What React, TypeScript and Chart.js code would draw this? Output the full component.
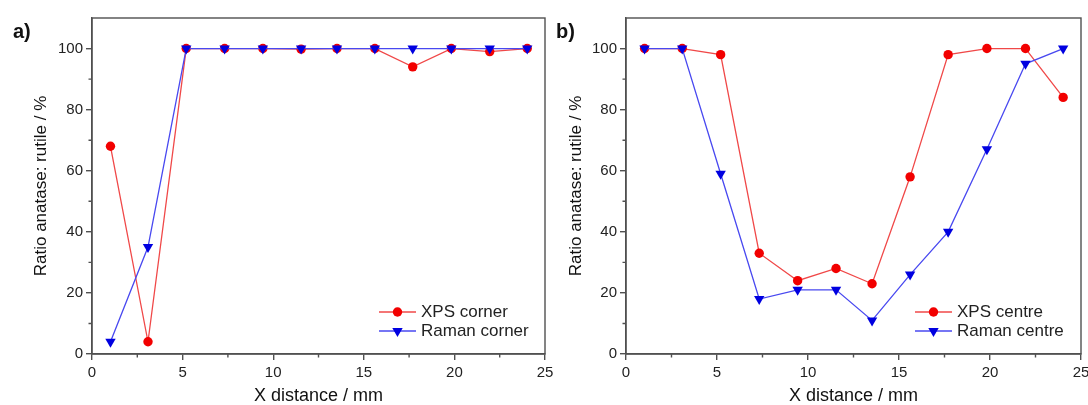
import React, { useEffect, useRef } from 'react';
import { Chart, registerables } from 'chart.js';
import { drawPoint } from 'chart.js/helpers';

Chart.register(...registerables);

// ---- data ----
const xDistance = [1.02, 3.09, 5.2, 7.32, 9.43, 11.54, 13.52, 15.61, 17.7, 19.83, 21.95, 24.02];
const xpsCorner = [68, 4, 100, 100, 100, 99.8, 100, 100, 94, 100, 99, 100];
const ramanCorner = [4, 35, 100, 100, 100, 100, 100, 100, 100, 100, 100, 100];
const xpsCentre = [100, 100, 98, 33, 24, 28, 23, 58, 98, 100, 100, 84];
const ramanCentre = [100, 100, 59, 18, 21, 21, 11, 26, 40, 67, 95, 100];

const xTicks = [0, 5, 10, 15, 20, 25];
const xMinorTicks = [2.5, 7.5, 12.5, 17.5, 22.5];
const yTicks = [0, 20, 40, 60, 80, 100];
const yMinorTicks = [10, 30, 50, 70, 90];

const xTitle = 'X distance / mm';
const yTitle = 'Ratio anatase: rutile / %';
const panelLabels = ['a)', 'b)'];
const cornerLabels = ['XPS corner', 'Raman corner'];
const centreLabels = ['XPS centre', 'Raman centre'];

const FONT = "'Liberation Sans', Arial, Helvetica, sans-serif";
const AXIS = '#505050';
const RED_LINE = '#f04848';
const RED_PT = '#f20000';
const BLUE_LINE = '#4848f0';
const BLUE_PT = '#0000e0';

const framePlugin = {
  id: 'frameMinor',
  beforeDatasetsDraw(chart: any) {
    const { ctx, chartArea, scales } = chart;
    ctx.save();
    ctx.strokeStyle = AXIS;
    ctx.lineWidth = 1.4;
    ctx.strokeRect(chartArea.left, chartArea.top, chartArea.right - chartArea.left, chartArea.bottom - chartArea.top);
    ctx.beginPath();
    xMinorTicks.forEach((v) => {
      const px = scales.x.getPixelForValue(v);
      ctx.moveTo(px, chartArea.bottom);
      ctx.lineTo(px, chartArea.bottom + 3.5);
    });
    yMinorTicks.forEach((v) => {
      const py = scales.y.getPixelForValue(v);
      ctx.moveTo(chartArea.left, py);
      ctx.lineTo(chartArea.left - 3.5, py);
    });
    ctx.stroke();
    ctx.restore();
  },
};

const legendPlugin = {
  id: 'insetLegend',
  afterDatasetsDraw(chart: any) {
    const { ctx, chartArea } = chart;
    ctx.save();
    chart.data.datasets.forEach((ds: any, i: number) => {
      const y = chartArea.bottom - 42 + i * 19;
      const x0 = chartArea.right - 166;
      const x1 = x0 + 37;
      ctx.strokeStyle = ds.borderColor;
      ctx.lineWidth = ds.borderWidth;
      ctx.beginPath();
      ctx.moveTo(x0, y);
      ctx.lineTo(x1, y);
      ctx.stroke();
      ctx.fillStyle = ds.pointBackgroundColor;
      ctx.strokeStyle = ds.pointBorderColor;
      drawPoint(ctx, { pointStyle: ds.pointStyle, rotation: ds.pointRotation || 0, radius: ds.pointRadius, borderWidth: 0 } as any, (x0 + x1) / 2, y);
      ctx.fillStyle = '#222';
      ctx.font = `17px ${FONT}`;
      ctx.textBaseline = 'middle';
      ctx.textAlign = 'left';
      ctx.fillText(ds.label, x1 + 5, y);
    });
    ctx.restore();
  },
};

function makeConfig(xps: number[], raman: number[], labels: string[], padLeft: number, yWidth: number, padRight: number): any {
  return {
    type: 'scatter',
    data: {
      datasets: [
        {
          label: labels[0],
          data: xDistance.map((x, i) => ({ x, y: xps[i] })),
          showLine: true,
          borderColor: RED_LINE,
          borderWidth: 1.3,
          pointStyle: 'circle',
          pointRadius: 4.7,
          pointBackgroundColor: RED_PT,
          pointBorderColor: RED_PT,
          pointBorderWidth: 0,
          order: 1,
        },
        {
          label: labels[1],
          data: xDistance.map((x, i) => ({ x, y: raman[i] })),
          showLine: true,
          borderColor: BLUE_LINE,
          borderWidth: 1.3,
          pointStyle: 'triangle',
          pointRotation: 180,
          pointRadius: 6,
          pointBackgroundColor: BLUE_PT,
          pointBorderColor: BLUE_PT,
          pointBorderWidth: 0,
          order: 0,
        },
      ],
    },
    options: {
      responsive: false,
      animation: false,
      devicePixelRatio: 1,
      layout: { padding: { left: padLeft, right: padRight, top: 18, bottom: 0 } },
      plugins: { legend: { display: false }, tooltip: { enabled: false }, title: { display: false } },
      scales: {
        x: {
          type: 'linear',
          min: 0,
          max: 25,
          afterBuildTicks: (s: any) => {
            s.ticks = xTicks.map((v) => ({ value: v }));
          },
          afterFit: (s: any) => {
            s.height = 51;
          },
          grid: { drawOnChartArea: false, drawTicks: true, tickLength: 6, color: AXIS, lineWidth: 1.4 },
          border: { display: true, color: AXIS, width: 1.4 },
          ticks: { color: '#222', font: { family: FONT, size: 15 }, padding: 4, maxRotation: 0, autoSkip: false },
          title: { display: true, text: xTitle, color: '#111', font: { family: FONT, size: 18, lineHeight: 1 }, padding: { top: 0, bottom: 0 } },
        },
        y: {
          type: 'linear',
          min: 0,
          max: 110,
          afterBuildTicks: (s: any) => {
            s.ticks = yTicks.map((v) => ({ value: v }));
          },
          afterFit: (s: any) => {
            s.width = yWidth;
          },
          grid: { drawOnChartArea: false, drawTicks: true, tickLength: 6, color: AXIS, lineWidth: 1.4 },
          border: { display: true, color: AXIS, width: 1.4 },
          ticks: { color: '#222', font: { family: FONT, size: 15 }, padding: 3, autoSkip: false },
          title: { display: true, text: yTitle, color: '#111', font: { family: FONT, size: 17, lineHeight: 1.2 }, padding: { top: 0, bottom: 0 } },
        },
      },
    },
    plugins: [framePlugin, legendPlugin],
  };
}

function Panel(props: { left: number; width: number; cfg: () => any }) {
  const ref = useRef<HTMLCanvasElement | null>(null);
  useEffect(() => {
    if (!ref.current) return;
    const chart = new Chart(ref.current, props.cfg());
    return () => chart.destroy();
  }, []);
  return (
    <canvas
      ref={ref}
      width={props.width}
      height={405}
      style={{ position: 'absolute', left: props.left, top: 0, width: props.width, height: 405 }}
    />
  );
}

export default function App() {
  const labelStyle: React.CSSProperties = {
    position: 'absolute',
    top: 21,
    font: `bold 20px ${FONT}`,
    lineHeight: '20px',
    color: '#111',
  };
  return (
    <div style={{ position: 'fixed', left: 0, top: 0, width: 1088, height: 405, overflow: 'hidden', background: '#fff' }}>
      <Panel left={0} width={575} cfg={() => makeConfig(xpsCorner, ramanCorner, cornerLabels, 31, 61, 30)} />
      <Panel left={544} width={560} cfg={() => makeConfig(xpsCentre, ramanCentre, centreLabels, 22, 60, 23)} />
      <div style={{ ...labelStyle, left: 13 }}>{panelLabels[0]}</div>
      <div style={{ ...labelStyle, left: 556 }}>{panelLabels[1]}</div>
    </div>
  );
}
